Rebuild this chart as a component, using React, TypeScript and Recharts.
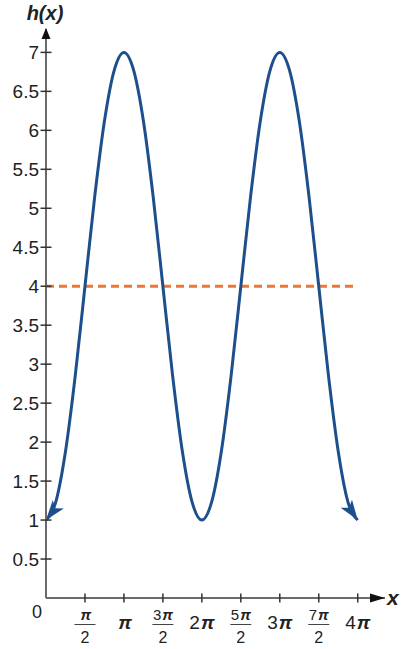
import React from 'react';
import { LineChart, Line, XAxis, YAxis, ReferenceDot } from 'recharts';

// x positions in units of π
const xValues = [
  0, 0.125, 0.25, 0.375, 0.5, 0.625, 0.75, 0.875, 1, 1.125, 1.25, 1.375, 1.5, 1.625, 1.75, 1.875,
  2, 2.125, 2.25, 2.375, 2.5, 2.625, 2.75, 2.875, 3, 3.125, 3.25, 3.375, 3.5, 3.625, 3.75, 3.875, 4,
];
const hValues = [
  1, 1.23, 1.88, 2.85, 4, 5.15, 6.12, 6.77, 7, 6.77, 6.12, 5.15, 4, 2.85, 1.88, 1.23,
  1, 1.23, 1.88, 2.85, 4, 5.15, 6.12, 6.77, 7, 6.77, 6.12, 5.15, 4, 2.85, 1.88, 1.23, 1,
];
const midlineX = [0, 4];
const midlineValue = 4;

const xTicks = [0, 0.5, 1, 1.5, 2, 2.5, 3, 3.5, 4];
const xTickLabels = ['0', 'π/2', 'π', '3π/2', '2π', '5π/2', '3π', '7π/2', '4π'];
const yTicks = [0.5, 1, 1.5, 2, 2.5, 3, 3.5, 4, 4.5, 5, 5.5, 6, 6.5, 7];
const yTickLabels = ['0.5', '1', '1.5', '2', '2.5', '3', '3.5', '4', '4.5', '5', '5.5', '6', '6.5', '7'];

const xMax = 4.35;
const yMax = 7.3;

const curveData = xValues.map((x, i) => ({ x, h: hValues[i] }));
const midData = midlineX.map((x) => ({ x, m: midlineValue }));

const FONT = "'Liberation Sans', Arial, Helvetica, sans-serif";
const TEXT = '#222';
const AXIS = '#6b6b6b';
const BLUE = '#1d4f8c';
const ORANGE = '#ef7733';

function piSpans(s: string) {
  return s.split('').map((ch, i) =>
    ch === 'π' ? (
      <tspan key={i} fontWeight="bold" fontStyle="italic" dx={1}>
        π
      </tspan>
    ) : (
      <tspan key={i}>{ch}</tspan>
    )
  );
}

const XTick = (props: any) => {
  const { x, y, payload } = props;
  const idx = xTicks.indexOf(payload.value);
  const label = xTickLabels[idx];
  if (label === '0') {
    return (
      <text x={x - 9} y={y + 20} textAnchor="middle" fontSize={18} fill={TEXT} fontFamily={FONT}>
        0
      </text>
    );
  }
  const tick = <line x1={x} x2={x} y1={y - 4.5} y2={y + 4.5} stroke="#333" strokeWidth={1.5} />;
  if (label.includes('/')) {
    const [num, den] = label.split('/');
    return (
      <g>
        {tick}
        <text x={x} y={y + 22} textAnchor="middle" fontSize={15} fill={TEXT} fontFamily={FONT}>
          {piSpans(num)}
        </text>
        <line x1={x - 10.5} x2={x + 10.5} y1={y + 26.5} y2={y + 26.5} stroke="#444" strokeWidth={1} />
        <text x={x} y={y + 45} textAnchor="middle" fontSize={16} fill={TEXT} fontFamily={FONT}>
          {den}
        </text>
      </g>
    );
  }
  return (
    <g>
      {tick}
      <text x={x} y={y + 30.5} textAnchor="middle" fontSize={19} fill={TEXT} fontFamily={FONT}>
        {piSpans(label)}
      </text>
    </g>
  );
};

const YTick = (props: any) => {
  const { x, y, payload } = props;
  const label = yTickLabels[yTicks.indexOf(payload.value)];
  return (
    <g>
      <line x1={x - 5.5} x2={x + 5.5} y1={y} y2={y} stroke="#333" strokeWidth={1.5} />
      <text x={x - 7} y={y} dy="0.36em" textAnchor="end" fontSize={19} fill={TEXT} fontFamily={FONT}>
        {label}
      </text>
    </g>
  );
};

const YArrow = (props: any) => {
  const { cx, cy } = props;
  return (
    <g>
      <path d={`M${cx},${cy - 1} L${cx + 4.5},${cy + 10} L${cx - 4.5},${cy + 10} Z`} fill="#111" />
      <text
        x={cx - 1}
        y={cy - 9}
        textAnchor="middle"
        fontSize={20}
        fontWeight="bold"
        fontStyle="italic"
        fill={TEXT}
        fontFamily={FONT}
      >
        h(x)
      </text>
    </g>
  );
};

const XArrow = (props: any) => {
  const { cx, cy } = props;
  return (
    <g>
      <path d={`M${cx},${cy} L${cx - 15},${cy - 4.5} L${cx - 15},${cy + 4.5} Z`} fill="#111" />
      <text
        x={cx + 2}
        y={cy + 7}
        textAnchor="start"
        fontSize={21}
        fontWeight="bold"
        fontStyle="italic"
        fill={TEXT}
        fontFamily={FONT}
      >
        x
      </text>
    </g>
  );
};

const arrowPath = 'M0,0 L20,7 L0,14 L5,7 Z';

export default function App() {
  return (
    <div style={{ position: 'absolute', left: 0, top: 0, width: 407, height: 649, background: '#fff' }}>
      <svg width={0} height={0} style={{ position: 'absolute' }}>
        <defs>
          <marker
            id="curveArrowStart"
            viewBox="0 0 20 14"
            refX={20}
            refY={7}
            markerWidth={20}
            markerHeight={14}
            markerUnits="userSpaceOnUse"
            orient="128"
          >
            <path d={arrowPath} fill={BLUE} />
          </marker>
          <marker
            id="curveArrowEnd"
            viewBox="0 0 20 14"
            refX={20}
            refY={7}
            markerWidth={20}
            markerHeight={14}
            markerUnits="userSpaceOnUse"
            orient="55"
          >
            <path d={arrowPath} fill={BLUE} />
          </marker>
        </defs>
      </svg>
      <LineChart width={407} height={649} margin={{ top: 29, right: 22, bottom: 0, left: 0 }}>
        <XAxis
          dataKey="x"
          type="number"
          domain={[0, xMax]}
          ticks={xTicks}
          interval={0}
          allowDataOverflow
          height={51}
          tickSize={0}
          tickMargin={0}
          tickLine={false}
          axisLine={{ stroke: AXIS, strokeWidth: 2 }}
          tick={(p: any) => <XTick {...p} />}
        />
        <YAxis
          type="number"
          domain={[0, yMax]}
          ticks={yTicks}
          interval={0}
          allowDataOverflow
          width={46}
          tickSize={0}
          tickMargin={0}
          tickLine={false}
          axisLine={{ stroke: AXIS, strokeWidth: 2 }}
          tick={(p: any) => <YTick {...p} />}
        />
        <Line
          data={midData}
          dataKey="m"
          type="linear"
          stroke={ORANGE}
          strokeWidth={3}
          strokeDasharray="8 5"
          dot={false}
          activeDot={false}
          isAnimationActive={false}
        />
        <Line
          data={curveData}
          dataKey="h"
          type="monotone"
          stroke={BLUE}
          strokeWidth={3}
          dot={false}
          activeDot={false}
          isAnimationActive={false}
          markerStart="url(#curveArrowStart)"
          markerEnd="url(#curveArrowEnd)"
        />
        <ReferenceDot x={0} y={yMax} r={0} ifOverflow="visible" shape={(p: any) => <YArrow {...p} />} />
        <ReferenceDot x={xMax} y={0} r={0} ifOverflow="visible" shape={(p: any) => <XArrow {...p} />} />
      </LineChart>
    </div>
  );
}
